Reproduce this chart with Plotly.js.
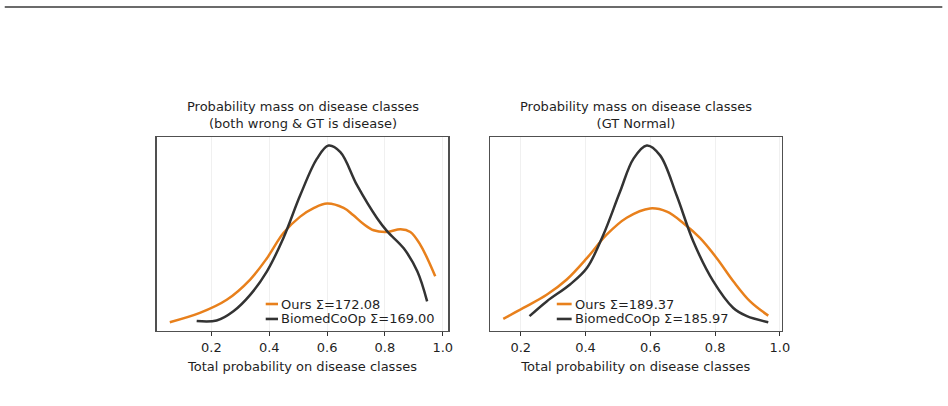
<!DOCTYPE html>
<html>
<head>
<meta charset="utf-8">
<script src="https://cdn.plot.ly/plotly-3.0.1.min.js"></script>
<style>
  html, body { margin: 0; padding: 0; background: #ffffff; }
  #chart { width: 948px; height: 406px; }
</style>
</head>
<body>
<div id="chart"></div>
<script>
// Kernel density curves of the total probability placed on disease classes.
const seriesNames = ['Ours', 'BiomedCoOp'];

// Panel A: both models wrong and ground truth is a disease class
const panelATitle = 'Probability mass on disease classes<br>(both wrong & GT is disease)';
const panelASums = [172.08, 169.00];
const oursAx = [0.056, 0.160, 0.253, 0.334, 0.392, 0.449, 0.507, 0.555, 0.600, 0.657, 0.690, 0.725, 0.761, 0.808, 0.854, 0.888, 0.923, 0.974];
const oursAy = [0.15, 0.32, 0.56, 0.93, 1.32, 1.78, 2.08, 2.24, 2.32, 2.24, 2.11, 1.95, 1.83, 1.80, 1.85, 1.80, 1.56, 0.99];
const biomedAx = [0.149, 0.218, 0.276, 0.334, 0.392, 0.449, 0.507, 0.565, 0.605, 0.646, 0.704, 0.773, 0.808, 0.865, 0.912, 0.946];
const biomedAy = [0.17, 0.18, 0.35, 0.65, 1.08, 1.69, 2.47, 3.14, 3.38, 3.26, 2.65, 2.05, 1.81, 1.50, 1.08, 0.53];

// Panel B: ground truth is Normal
const panelBTitle = 'Probability mass on disease classes<br>(GT Normal)';
const panelBSums = [189.37, 185.97];
const oursBx = [0.146, 0.208, 0.280, 0.342, 0.404, 0.465, 0.527, 0.599, 0.651, 0.702, 0.753, 0.805, 0.856, 0.908, 0.964];
const oursBy = [0.21, 0.41, 0.65, 0.93, 1.32, 1.75, 2.06, 2.23, 2.17, 1.96, 1.69, 1.32, 0.90, 0.53, 0.27];
const biomedBx = [0.227, 0.280, 0.352, 0.404, 0.455, 0.506, 0.548, 0.589, 0.630, 0.681, 0.733, 0.794, 0.856, 0.898, 0.964];
const biomedBy = [0.26, 0.53, 0.84, 1.14, 1.75, 2.53, 3.14, 3.38, 3.20, 2.47, 1.62, 0.90, 0.41, 0.26, 0.15];

const xTickVals = [0.2, 0.4, 0.6, 0.8, 1.0];
const xTickText = ['0.2', '0.4', '0.6', '0.8', '1.0'];
const xAxisLabel = 'Total probability on disease classes';

const colors = ['#e8801c', '#333333'];
const FONT = 'DejaVu Sans, sans-serif';
const TEXT = '#1f1f1f';

// autoscale with 5% padding on each side
function padRange(arrays) {
  const all = [].concat(...arrays);
  const lo = Math.min(...all), hi = Math.max(...all);
  const pad = (hi - lo) * 0.05;
  return [lo - pad, hi + pad];
}

function curve(x, y, color, xa, ya) {
  return {
    x: x, y: y, xaxis: xa, yaxis: ya, type: 'scatter', mode: 'lines',
    line: { color: color, width: 2.5, shape: 'spline', smoothing: 1 },
    hoverinfo: 'skip', showlegend: false
  };
}

const data = [
  curve(oursAx, oursAy, colors[0], 'x', 'y'),
  curve(biomedAx, biomedAy, colors[1], 'x', 'y'),
  curve(oursBx, oursBy, colors[0], 'x2', 'y2'),
  curve(biomedBx, biomedBy, colors[1], 'x2', 'y2')
];

function xAxis(domain, range, anchor) {
  return {
    domain: domain, range: range, anchor: anchor,
    tickvals: xTickVals, ticktext: xTickText,
    ticks: 'outside', ticklen: 4, tickwidth: 1, tickcolor: '#333333',
    tickfont: { family: FONT, size: 13, color: TEXT },
    showgrid: true, gridcolor: '#ececec', gridwidth: 0.8,
    zeroline: false,
    showline: true, linecolor: '#505050', linewidth: 1.2, mirror: true,
    title: { text: xAxisLabel, font: { family: FONT, size: 13, color: TEXT }, standoff: 8 }
  };
}
function yAxis(domain, range, anchor) {
  return {
    domain: domain, range: range, anchor: anchor,
    showticklabels: false, ticks: '', showgrid: false, zeroline: false,
    showline: true, linecolor: '#505050', linewidth: 1.2, mirror: true
  };
}

const yDom = [0.1847, 0.6633];
const domA = [0.1651, 0.4731];
const domB = [0.5169, 0.8244];

// legend rows drawn as short line samples plus labels
const shapes = [
  { type: 'line', xref: 'paper', yref: 'paper', x0: 0.005, x1: 0.994, y0: 0.983, y1: 0.983,
    line: { color: '#3a3a3a', width: 1.5 } }
];
const annotations = [];

function addLegend(xref, yref, x0, x1, sums) {
  const rows = [0.139, 0.062];
  rows.forEach((ry, i) => {
    shapes.push({ type: 'line', xref: xref + ' domain', yref: yref + ' domain',
      x0: x0, x1: x1, y0: ry, y1: ry, line: { color: colors[i], width: 2.6 } });
    annotations.push({ xref: xref + ' domain', yref: yref + ' domain', x: x1 + 0.004, y: ry,
      xanchor: 'left', yanchor: 'middle', showarrow: false,
      text: seriesNames[i] + ' Σ=' + sums[i].toFixed(2),
      font: { family: FONT, size: 13, color: TEXT } });
  });
}
addLegend('x', 'y', 0.374, 0.416, panelASums);
addLegend('x2', 'y2', 0.229, 0.280, panelBSums);

function addTitle(xref, yref, text) {
  annotations.push({ xref: xref + ' domain', yref: yref + ' domain', x: 0.5, y: 1,
    xanchor: 'center', yanchor: 'bottom', yshift: 4, showarrow: false, text: text,
    font: { family: FONT, size: 13, color: TEXT } });
}
addTitle('x', 'y', panelATitle);
addTitle('x2', 'y2', panelBTitle);

const layout = {
  width: 948, height: 406,
  margin: { l: 0, r: 0, t: 0, b: 0 },
  paper_bgcolor: '#ffffff', plot_bgcolor: '#ffffff',
  showlegend: false,
  font: { family: FONT, color: TEXT },
  xaxis: xAxis(domA, padRange([oursAx, biomedAx]), 'y'),
  yaxis: yAxis(yDom, padRange([oursAy, biomedAy]), 'x'),
  xaxis2: xAxis(domB, padRange([oursBx, biomedBx]), 'y2'),
  yaxis2: yAxis(yDom, padRange([oursBy, biomedBy]), 'x2'),
  shapes: shapes,
  annotations: annotations
};

Plotly.newPlot('chart', data, layout, { staticPlot: true, displayModeBar: false });
</script>
</body>
</html>
